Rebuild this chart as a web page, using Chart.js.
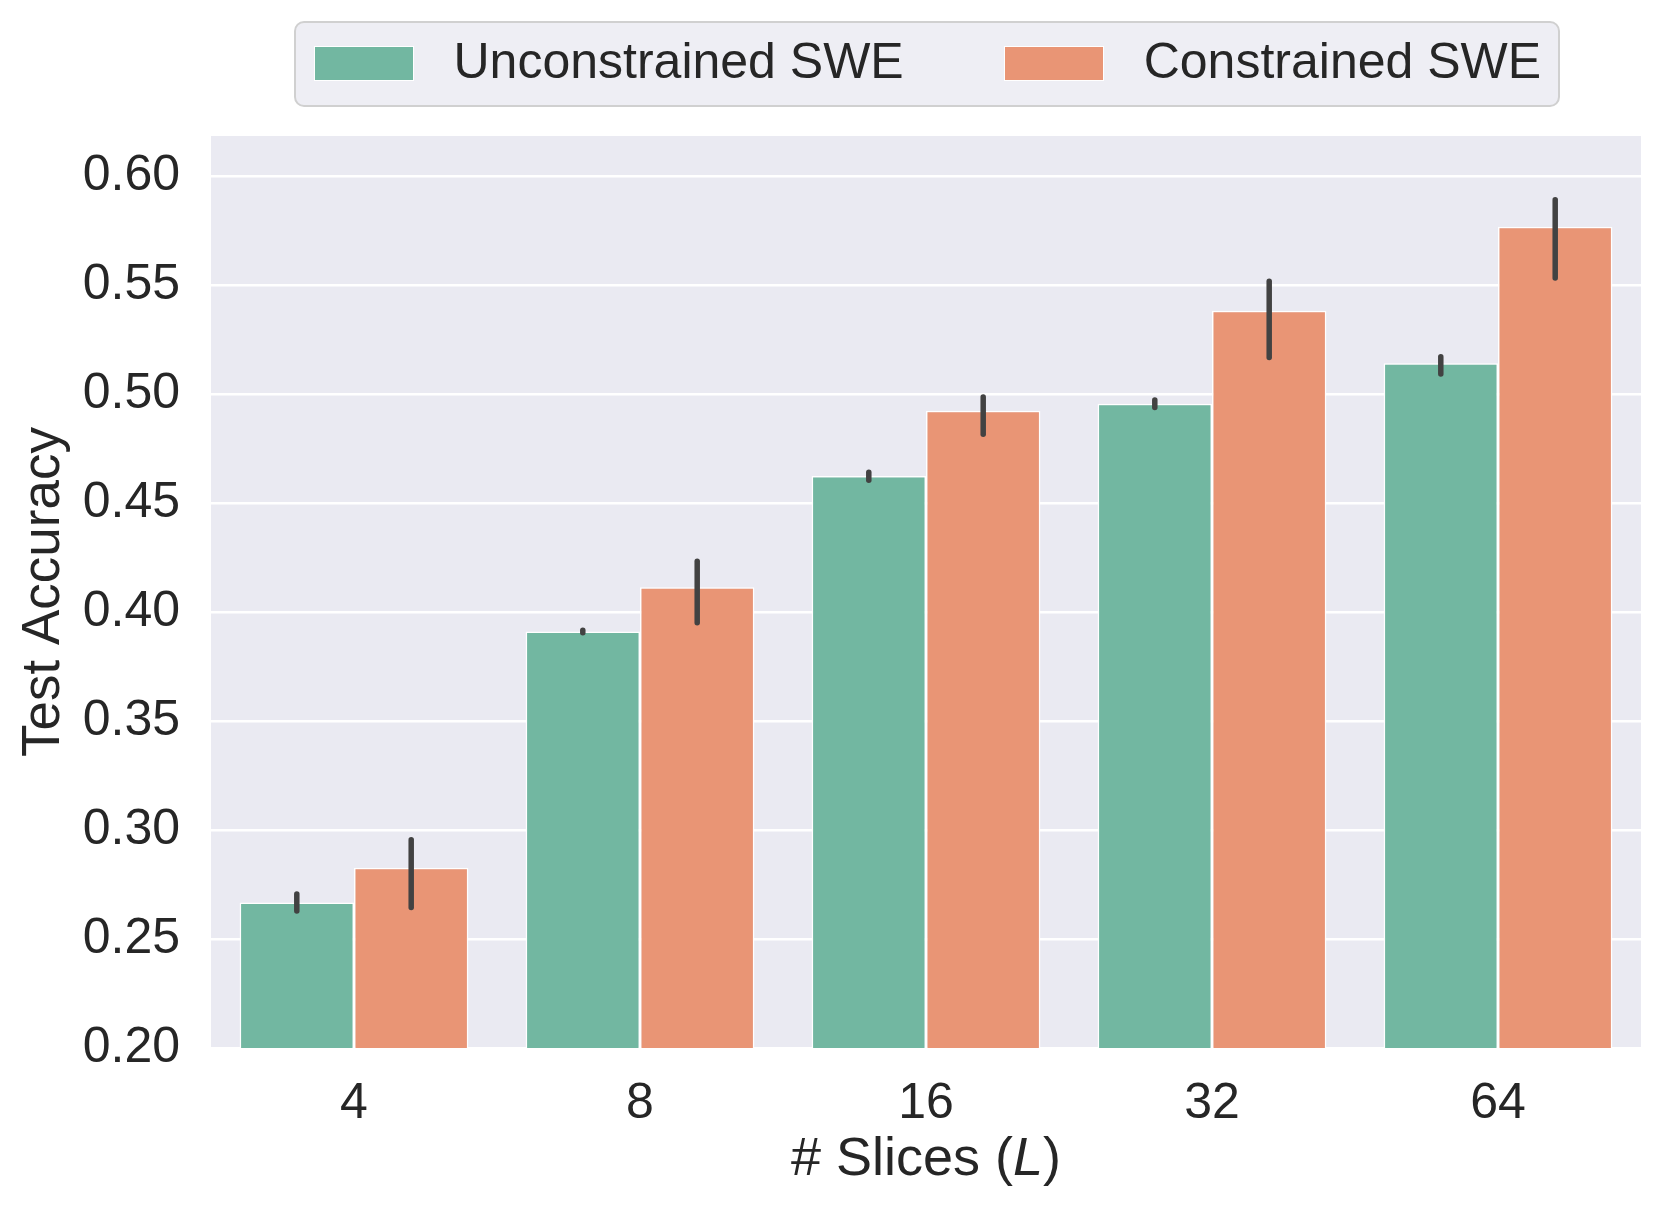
<!DOCTYPE html>
<html lang="en">
<head>
<meta charset="UTF-8" />
<title>Test Accuracy vs # Slices</title>
<script src="https://cdn.jsdelivr.net/npm/chart.js@4.4.0/dist/chart.umd.min.js"></script>
<style>
  body { margin: 0; background: #fff; }
  #wrap { position: relative; width: 1662px; height: 1213px; }
  #legend {
    position: absolute; left: 294px; top: 21px; width: 1266px; height: 86px;
    box-sizing: border-box; background: #eeeef4; border: 2.5px solid #d0d0d0; border-radius: 10px;
    display: flex; align-items: center; padding-left: 17.5px;
    font-family: 'Liberation Sans', Arial, sans-serif; font-size: 50px; color: #262626;
  }
  .sw { flex: 0 0 100px; width: 100px; height: 35px; box-sizing: border-box; border: 1.5px solid #fff; margin-right: 40px; margin-bottom: 2px; }
  .lbl { flex: 0 0 auto; margin-right: 100px; line-height: 1; white-space: nowrap; position: relative; top: -3px; }
</style>
</head>
<body>
<div id="wrap">
  <canvas id="chart" width="1662" height="1213"></canvas>
  <div id="legend"></div>
</div>
<script>
const slices = ['4', '8', '16', '32', '64'];
const seriesNames = ['Unconstrained SWE', 'Constrained SWE'];

// mean accuracy and error bar ends
const unconstrained   = [0.2667, 0.3910, 0.4623, 0.4955, 0.5141];
const unconstrainedLo = [0.2628, 0.3905, 0.4604, 0.4938, 0.5091];
const unconstrainedHi = [0.2706, 0.3916, 0.4641, 0.4972, 0.5170];
const constrained     = [0.2827, 0.4113, 0.4923, 0.5382, 0.5767];
const constrainedLo   = [0.2644, 0.3951, 0.4815, 0.5167, 0.5532];
const constrainedHi   = [0.2955, 0.4233, 0.4986, 0.5517, 0.5891];

const yTicks = [0.20, 0.25, 0.30, 0.35, 0.40, 0.45, 0.50, 0.55, 0.60];
const yLabel = 'Test Accuracy';
const xLabelParts = [['# Slices (', false], ['L', true], [')', false]];

const colors = ['rgb(114,183,161)', 'rgb(233,149,117)'];
const textColor = '#262626';
const family = "'Liberation Sans', Arial, sans-serif";

// html legend
const legend = document.getElementById('legend');
seriesNames.forEach((name, i) => {
  const sw = document.createElement('span');
  sw.className = 'sw';
  sw.style.background = colors[i];
  const lb = document.createElement('span');
  lb.className = 'lbl';
  lb.textContent = name;
  legend.appendChild(sw);
  legend.appendChild(lb);
});

const bgPlugin = {
  id: 'bg',
  beforeDraw(chart) {
    const {ctx, chartArea: a} = chart;
    ctx.save();
    ctx.fillStyle = '#eaeaf2';
    ctx.fillRect(a.left, a.top, a.right - a.left, a.bottom - a.top);
    ctx.restore();
  }
};

const errPlugin = {
  id: 'errbars',
  afterDatasetsDraw(chart) {
    const ctx = chart.ctx;
    const y = chart.scales.y;
    ctx.save();
    ctx.strokeStyle = '#424242';
    ctx.lineWidth = 5.5;
    ctx.lineCap = 'round';
    chart.data.datasets.forEach((ds, i) => {
      const meta = chart.getDatasetMeta(i);
      meta.data.forEach((bar, j) => {
        ctx.beginPath();
        ctx.moveTo(bar.x, y.getPixelForValue(ds.lo[j]));
        ctx.lineTo(bar.x, y.getPixelForValue(ds.hi[j]));
        ctx.stroke();
      });
    });
    ctx.restore();
  }
};

// x title with italic L
const xTitlePlugin = {
  id: 'xtitle',
  afterDraw(chart) {
    const ctx = chart.ctx;
    const a = chart.chartArea;
    const size = 54;
    ctx.save();
    ctx.fillStyle = textColor;
    ctx.textBaseline = 'middle';
    ctx.textAlign = 'left';
    let total = 0;
    const widths = xLabelParts.map(([t, it]) => {
      ctx.font = (it ? 'italic ' : '') + size + 'px ' + family;
      const w = ctx.measureText(t).width;
      total += w;
      return w;
    });
    let x = (a.left + a.right) / 2 - total / 2;
    const yy = a.bottom + 112;
    xLabelParts.forEach(([t, it], k) => {
      ctx.font = (it ? 'italic ' : '') + size + 'px ' + family;
      ctx.fillText(t, x, yy);
      x += widths[k];
    });
    ctx.restore();
  }
};

const ctx = document.getElementById('chart').getContext('2d');
new Chart(ctx, {
  type: 'bar',
  data: {
    labels: slices,
    datasets: [
      { label: seriesNames[0], data: unconstrained, lo: unconstrainedLo, hi: unconstrainedHi,
        backgroundColor: colors[0], borderColor: '#fff', borderWidth: 1.5,
        categoryPercentage: 0.8, barPercentage: 1.0 },
      { label: seriesNames[1], data: constrained, lo: constrainedLo, hi: constrainedHi,
        backgroundColor: colors[1], borderColor: '#fff', borderWidth: 1.5,
        categoryPercentage: 0.8, barPercentage: 1.0 }
    ]
  },
  options: {
    responsive: false,
    animation: false,
    devicePixelRatio: 1,
    layout: { padding: { top: 136, right: 21, bottom: 0, left: 0 } },
    plugins: { legend: { display: false }, tooltip: { enabled: false } },
    scales: {
      x: {
        grid: { display: false },
        border: { display: false },
        ticks: { color: textColor, font: { family: family, size: 50 }, padding: 18 },
        afterFit(s) { s.height = 165; }
      },
      y: {
        min: 0.2,
        max: 0.6183,
        grid: { color: '#ffffff', lineWidth: 2.5, drawTicks: false },
        border: { display: false },
        ticks: { color: textColor, font: { family: family, size: 50 }, padding: 31,
                 callback: v => v.toFixed(2) },
        afterBuildTicks(s) { s.ticks = yTicks.map(v => ({ value: v })); },
        afterFit(s) { s.width = 211; },
        title: { display: true, text: yLabel, color: textColor,
                 font: { family: family, size: 53 }, padding: { top: 13, bottom: 0 } }
      }
    }
  },
  plugins: [bgPlugin, errPlugin, xTitlePlugin]
});
</script>
</body>
</html>
